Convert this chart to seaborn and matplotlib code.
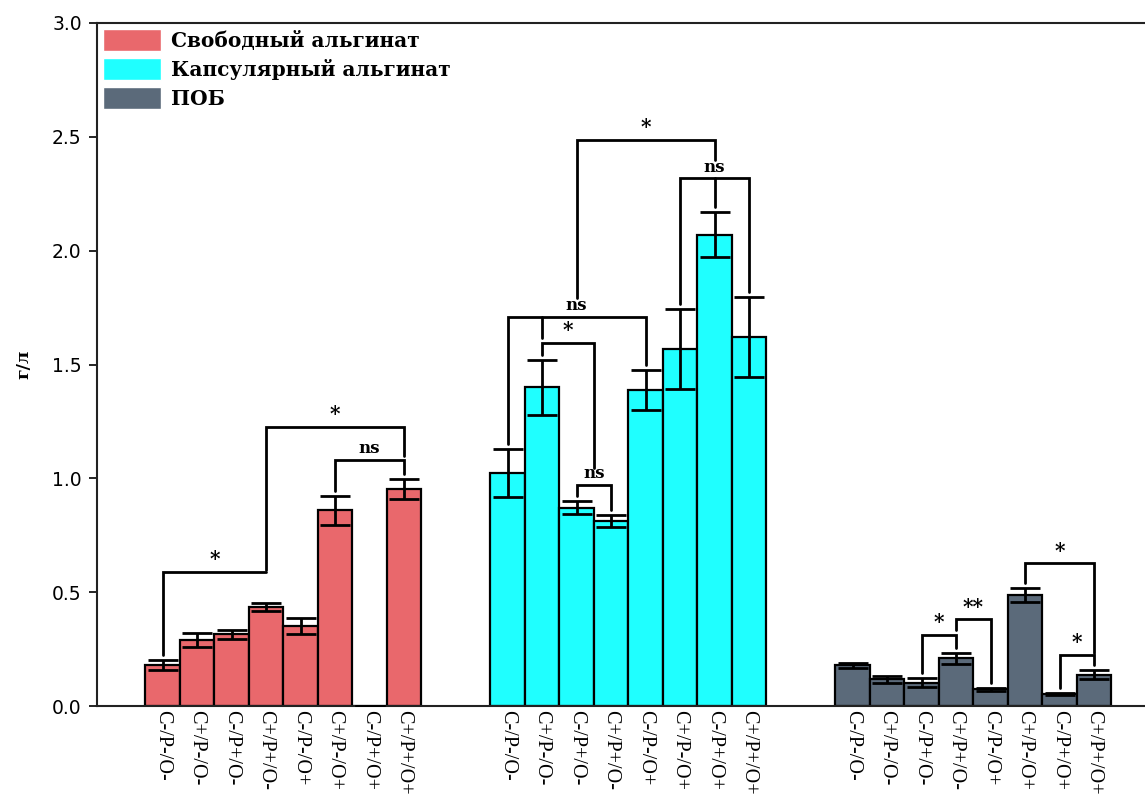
import numpy as np
import pandas as pd
import matplotlib
matplotlib.use("Agg")
import matplotlib.pyplot as plt
import seaborn as sns
from matplotlib.patches import Patch

# Treatment conditions, shared by all three groups
conditions = ["C-/P-/O-", "C+/P-/O-", "C-/P+/O-", "C+/P+/O-",
              "C-/P-/O+", "C+/P-/O+", "C-/P+/O+", "C+/P+/O+"]
groups = ["Свободный альгинат", "Капсулярный альгинат", "ПОБ"]

# Mean concentrations, g/L, and their errors
free_alginate = [0.180, 0.290, 0.315, 0.436, 0.350, 0.860, 0.000, 0.952]
free_alginate_err = [0.022, 0.030, 0.020, 0.017, 0.035, 0.064, 0.000, 0.044]
capsular_alginate = [1.023, 1.400, 0.871, 0.814, 1.388, 1.568, 2.070, 1.619]
capsular_alginate_err = [0.104, 0.120, 0.028, 0.026, 0.088, 0.176, 0.099, 0.176]
phb = [0.178, 0.117, 0.102, 0.209, 0.073, 0.487, 0.053, 0.138]
phb_err = [0.012, 0.015, 0.020, 0.023, 0.006, 0.032, 0.005, 0.020]

# Significance brackets: (left bar, right bar, height, label, left end, right end, middle legs)
# Bar indices are within a group; an end of None drops to the top of that bar's error bar.
free_brackets = [
    (0, 3, 0.590, "*", None, 0.590, []),
    (3, 7, 1.227, "*", 0.597, 1.100, []),
    (5, 7, 1.080, "ns", None, None, []),
]
capsular_brackets = [
    (0, 4, 1.710, "ns", None, None, [(1, 1.615)]),
    (1, 2.5, 1.596, "*", None, 1.044, []),
    (2, 3, 0.970, "ns", None, None, []),
    (2, 6, 2.488, "*", 1.790, 2.400, []),
    (5, 7, 2.317, "ns", None, None, [(6, None)]),
]
phb_brackets = [
    (2, 3, 0.312, "*", None, None, []),
    (3, 4, 0.381, "**", 0.334, None, []),
    (5, 7, 0.627, "*", None, 0.231, []),
    (6, 7, 0.224, "*", None, None, []),
]

colors = ["#E9686C", "#1FFFFF", "#5B6A7A"]
serif = ["Liberation Serif", "DejaVu Serif"]
wide_serif = ["DejaVu Serif"]

sns.set_style("ticks")
plt.rcParams["font.family"] = ["DejaVu Sans"]
plt.rcParams.update({"text.color": "black", "axes.labelcolor": "black",
                     "xtick.color": "black", "ytick.color": "black"})

values_by_group = [free_alginate, capsular_alginate, phb]
errors_by_group = [free_alginate_err, capsular_alginate_err, phb_err]
brackets_by_group = [free_brackets, capsular_brackets, phb_brackets]

n = len(conditions)
step = n + 2  # two empty slots between groups
rows = []
for g, (name, vals, errs) in enumerate(zip(groups, values_by_group, errors_by_group)):
    for i, (v, e) in enumerate(zip(vals, errs)):
        rows.append({"pos": g * step + i, "value": v, "err": e,
                     "group": name, "condition": conditions[i]})
df = pd.DataFrame(rows)

fig = plt.figure(figsize=(11.45, 7.96), dpi=100)
ax = fig.add_axes([97 / 1145, 90 / 796, 1062.6 / 1145, 683 / 796])

sns.barplot(data=df, x="pos", y="value", hue="group", hue_order=groups,
            palette=colors, native_scale=True, dodge=False, width=1.0,
            errorbar=None, edgecolor="black", linewidth=1.6, legend=False,
            saturation=1.0, ax=ax)
ax.errorbar(df["pos"], df["value"], yerr=df["err"], fmt="none",
            ecolor="black", elinewidth=2.0, capsize=10.5, capthick=2.0,
            zorder=5)


def bar_top(g, idx):
    k = int(round(idx))
    vals, errs = values_by_group[g], errors_by_group[g]
    return vals[k] + errs[k] + 0.022


lw = 2.0
for g, brackets in enumerate(brackets_by_group):
    base = g * step
    for left, right, h, label, lend, rend, mids in brackets:
        x1, x2 = base + left, base + right
        y1 = bar_top(g, left) if lend is None else lend
        y2 = bar_top(g, right) if rend is None else rend
        ax.plot([x1, x1, x2, x2], [y1, h, h, y2], color="black", lw=lw,
                solid_joinstyle="miter", zorder=6)
        for m, mend in mids:
            ym = bar_top(g, m) if mend is None else mend
            ax.plot([base + m, base + m], [ym, h], color="black", lw=lw, zorder=6)
        size = 12 if label == "ns" else 14.5
        ax.text((x1 + x2) / 2, h + 0.012, label, ha="center", va="bottom",
                fontsize=size, fontweight="bold", family=wide_serif, zorder=7)

ax.set_xlim(-1.9, 3 * step - 2 + 0.9)
ax.set_ylim(0, 3.0)
ticks = np.arange(0, 3.01, 0.5)
ax.set_yticks(ticks)
ax.set_yticklabels([f"{t:.1f}" for t in ticks], fontsize=13.5)
ax.set_xticks(df["pos"])
ax.set_xticklabels(df["condition"], rotation=270, fontsize=14.5, family=serif)
ax.tick_params(axis="x", length=0, pad=3)
ax.tick_params(axis="y", length=6, width=1.2, pad=5)
ax.set_xlabel("")
ax.set_ylabel("г/л", fontsize=12.5, fontweight="bold", family=wide_serif, labelpad=14)

for side in ["left", "bottom", "top"]:
    ax.spines[side].set_linewidth(1.5)
    ax.spines[side].set_color("#222222")
ax.spines["right"].set_visible(False)

handles = [Patch(facecolor=c, edgecolor="white", linewidth=1.0, label=name)
           for c, name in zip(colors, groups)]
ax.legend(handles=handles, loc="upper left", frameon=False,
          prop={"family": wide_serif, "weight": "bold", "size": 14.5},
          handlelength=2.9, handleheight=1.3, handletextpad=0.45,
          labelspacing=0.35, borderaxespad=0.2, borderpad=0.1)

fig.savefig("out.png", dpi=100)
